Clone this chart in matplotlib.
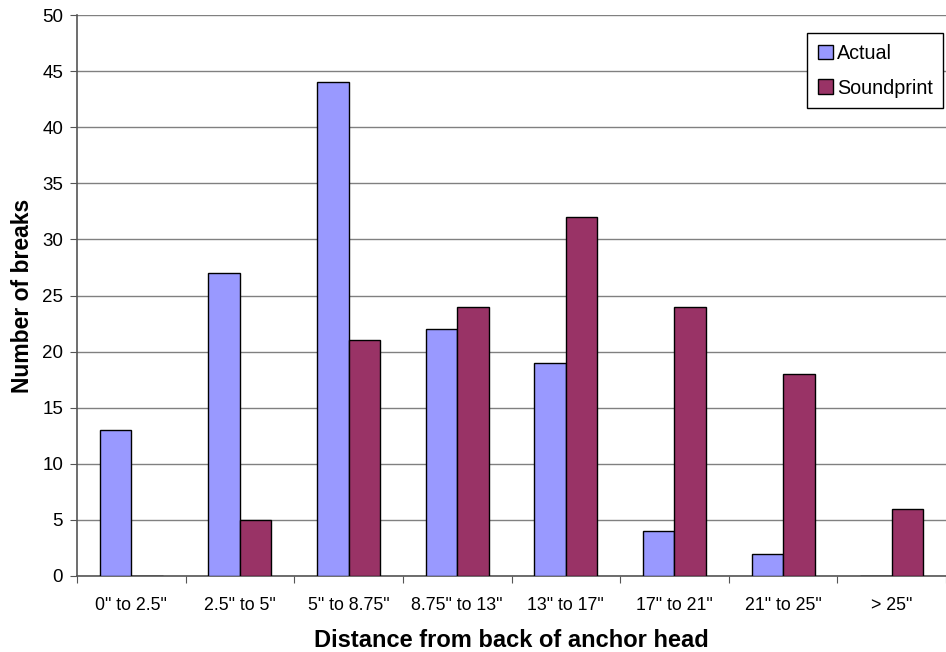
import matplotlib
matplotlib.use("Agg")
import matplotlib.pyplot as plt
import numpy as np

plt.rcParams['font.family'] = ['Liberation Sans', 'DejaVu Sans']

categories = ['0" to 2.5"', '2.5" to 5"', '5" to 8.75"', '8.75" to 13"',
              '13" to 17"', '17" to 21"', '21" to 25"', '> 25"']
actual = [13, 27, 44, 22, 19, 4, 2, 0]
soundprint = [0, 5, 21, 24, 32, 24, 18, 6]

fig = plt.figure(figsize=(9.46, 6.52), dpi=100)
ax = fig.add_axes([77 / 946, 1 - 576 / 652, 1 - 77 / 946, (576 - 15) / 652])

x = np.arange(len(categories))
w = 0.29
ax.bar(x - w / 2, actual, w, color='#9999FF', edgecolor='black', linewidth=1.0,
       label='Actual', zorder=3)
ax.bar(x + w / 2, soundprint, w, color='#993366', edgecolor='black', linewidth=1.0,
       label='Soundprint', zorder=3)

ax.set_xlim(-0.5, len(categories) - 0.5)
ax.set_ylim(0, 50)
ax.set_yticks(range(0, 51, 5))
ax.set_xticks(np.arange(len(categories) + 1) - 0.5, minor=False)
ax.set_xticklabels([])
ax.set_xticks(x, minor=True)
ax.set_xticklabels(categories, minor=True)
ax.tick_params(axis='x', which='minor', length=0, pad=15, labelsize=12.8)
ax.tick_params(axis='x', which='major', length=5, direction='out', color='#555555')
ax.tick_params(axis='y', length=5, direction='out', color='#555555', labelsize=13.5, pad=5)

ax.grid(axis='y', color='#808080', linewidth=1.0, zorder=0)
for s in ['top', 'right']:
    ax.spines[s].set_visible(False)
for s in ['left', 'bottom']:
    ax.spines[s].set_color('#555555')
    ax.spines[s].set_linewidth(1.2)

ax.set_xlabel('Distance from back of anchor head', fontsize=17, fontweight='bold', labelpad=11)
ax.set_ylabel('Number of breaks', fontsize=16.5, fontweight='bold', labelpad=6)

leg = ax.legend(loc='upper right', bbox_to_anchor=(0.997, 0.968), fontsize=14.2,
                frameon=True, fancybox=False, edgecolor='black', framealpha=1,
                handlelength=0.75, handleheight=0.75, handletextpad=0.2,
                labelspacing=0.8, borderpad=0.55, borderaxespad=0)
leg.get_frame().set_linewidth(1.0)

fig.savefig('out.png', dpi=100)
